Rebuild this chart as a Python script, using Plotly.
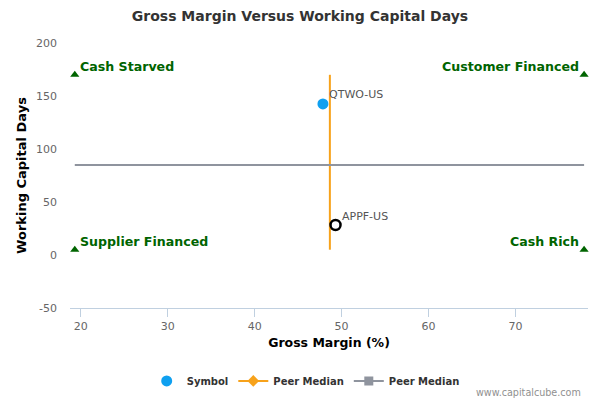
import plotly.graph_objects as go

# ---- data ----
symbols = ["QTWO-US", "APPF-US"]
gross_margin = [47.85, 49.3]
wc_days = [142.5, 28.3]

peer_median_x = 48.65      # vertical median (gross margin)
peer_median_y = 85.0       # horizontal median (working capital days)
x_span = [19.3, 77.9]
y_span = [5.0, 170.0]

quad_labels = ["Cash Starved", "Customer Financed", "Supplier Financed", "Cash Rich"]
quad_x = [19.3, 77.9, 19.3, 77.9]
quad_y = [170, 170, 5, 5]
quad_side = ["left", "right", "left", "right"]

x_ticks = [20, 30, 40, 50, 60, 70]
y_ticks = [-50, 0, 50, 100, 150, 200]
y_tick_labels = ["-50", "0", "50", "100", "150", "200"]

FONT = "DejaVu Sans"
GREEN = "#006400"
ORANGE = "#f7a21b"
GREY = "#8f949e"
fig = go.Figure()

# vertical peer median (orange)
fig.add_trace(go.Scatter(x=[peer_median_x, peer_median_x], y=y_span, mode="lines",
                         line=dict(color=ORANGE, width=2), showlegend=False, hoverinfo="skip"))
# horizontal peer median (grey)
fig.add_trace(go.Scatter(x=x_span, y=[peer_median_y, peer_median_y], mode="lines",
                         line=dict(color=GREY, width=2), showlegend=False, hoverinfo="skip"))

# quadrant markers
fig.add_trace(go.Scatter(x=quad_x, y=quad_y, mode="markers",
                         marker=dict(symbol="triangle-up", size=8, color=GREEN),
                         showlegend=False, hoverinfo="skip", cliponaxis=False))

# points
fig.add_trace(go.Scatter(x=[gross_margin[0]], y=[wc_days[0]], mode="markers",
                         marker=dict(symbol="circle", size=11, color="#0fa0f0"),
                         name="Symbol", showlegend=True))
fig.add_trace(go.Scatter(x=[gross_margin[1]], y=[wc_days[1]], mode="markers",
                         marker=dict(symbol="circle-open", size=10, color="#000000", line=dict(width=2.5)),
                         showlegend=False))

# legend-only entries for medians
fig.add_trace(go.Scatter(x=[None], y=[None], mode="lines+markers", name="Peer Median",
                         line=dict(color=ORANGE, width=2),
                         marker=dict(symbol="diamond", size=9, color=ORANGE)))
fig.add_trace(go.Scatter(x=[None], y=[None], mode="lines+markers", name="Peer Median",
                         line=dict(color=GREY, width=2),
                         marker=dict(symbol="square", size=9, color=GREY)))

annotations = []
for lab, qx, qy, side in zip(quad_labels, quad_x, quad_y, quad_side):
    annotations.append(dict(text=lab, x=qx, y=qy, xref="x", yref="y", showarrow=False,
                            xanchor="left" if side == "left" else "right", yanchor="middle",
                            xshift=3 if side == "left" else -3, yshift=8,
                            font=dict(family=FONT, size=12.6, color=GREEN, weight="bold")))
for s, gx, wy in zip(symbols, gross_margin, wc_days):
    annotations.append(dict(text=s, x=gx, y=wy, xref="x", yref="y", showarrow=False,
                            xanchor="left", yanchor="middle", xshift=4, yshift=9,
                            font=dict(family=FONT, size=11, color="#555555")))
annotations.append(dict(text="www.capitalcube.com", xref="paper", yref="paper",
                        x=0.99, y=-0.32, xanchor="right", yanchor="middle", showarrow=False,
                        font=dict(family=FONT, size=9.6, color="#909090")))

fig.update_layout(
    width=600, height=400,
    margin=dict(l=70, r=12, t=43, b=92, autoexpand=False),
    paper_bgcolor="white", plot_bgcolor="white",
    font=dict(family=FONT, color="#333333"),
    title=dict(text="Gross Margin Versus Working Capital Days", x=0.5, xanchor="center",
               y=0.96, yanchor="middle",
               font=dict(family=FONT, size=14, color="#333333", weight="bold")),
    xaxis=dict(range=[18.75, 78.35], tickvals=x_ticks, showgrid=False, zeroline=False,
               automargin=False,
               showline=True, linecolor="#c0d0e0", linewidth=1,
               ticks="outside", tickcolor="#c0d0e0", ticklen=8,
               tickfont=dict(family=FONT, size=11, color="#666666"),
               title=dict(text="Gross Margin (%)", standoff=6,
                          font=dict(family=FONT, size=12.5, color="#000000", weight="bold"))),
    yaxis=dict(range=[-50, 200], tickvals=y_ticks, ticktext=y_tick_labels,
               showgrid=False, zeroline=False,
               automargin=False,
               showline=False, ticks="", ticklabelstandoff=12,
               tickfont=dict(family=FONT, size=11, color="#666666"),
               title=dict(text="Working Capital Days", standoff=6,
                          font=dict(family=FONT, size=13, color="#000000", weight="bold"))),
    legend=dict(orientation="h", x=0.455, xanchor="center", y=-0.275, yanchor="middle",
                font=dict(family=FONT, size=10, color="#333333", weight="bold"),
                itemwidth=30),
    annotations=annotations,
)

fig.write_html("out.html", config={"displayModeBar": False},
               post_script="document.body.style.margin='0px';document.body.style.padding='0px';")
